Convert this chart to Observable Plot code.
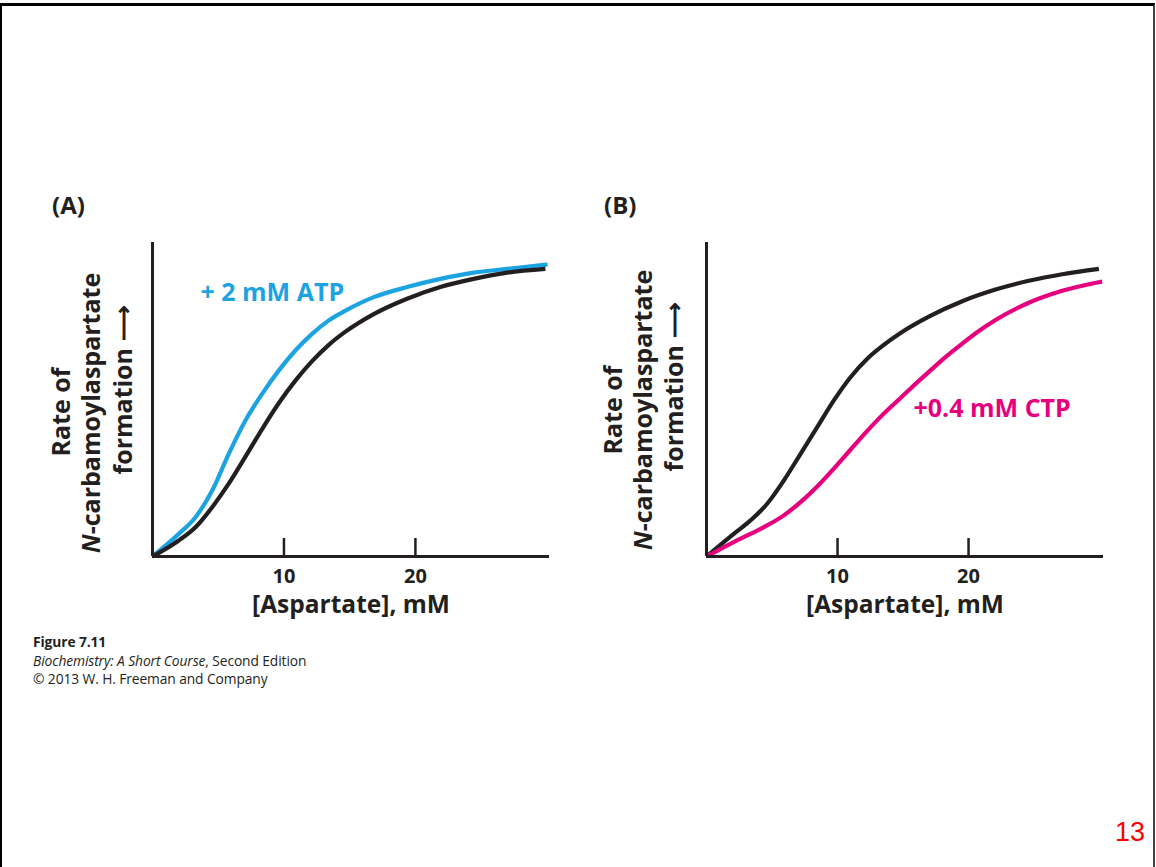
<!DOCTYPE html>
<html><head><meta charset="utf-8">
<script src="https://cdn.jsdelivr.net/npm/d3@7"></script>
<script src="https://cdn.jsdelivr.net/npm/@observablehq/plot@0.6"></script>
<style>
html,body{margin:0;padding:0;background:#fff;}
#page{position:relative;width:1156px;height:867px;overflow:hidden;font-family:"Open Sans",sans-serif;background:#fff;}
#frame{position:absolute;left:0;top:3px;width:1155px;height:900px;border-top:3px solid #000;border-left:2px solid #000;border-right:2px solid #444;box-sizing:border-box;}
.ylab{position:absolute;white-space:nowrap;font-weight:700;font-size:25px;line-height:1;transform:translate(-50%,-50%) rotate(-90deg);color:#231f20;}
.ptitle{position:absolute;font-weight:700;font-size:24px;line-height:1;transform:translateY(-50%);color:#231f20;}
.plot{position:absolute;top:200px;}
#caption{position:absolute;left:33px;top:633px;font-size:13.8px;line-height:18.5px;color:#231f20;letter-spacing:-0.1px;}
#pnum{position:absolute;right:11px;top:819px;font-family:"Liberation Sans",Arial,sans-serif;font-size:27px;color:#ff0000;line-height:1;}
</style></head>
<body>
<div id="page">
  <div id="frame"></div>
  <div class="ptitle" style="left:52px;top:205px;">(A)</div>
  <div class="ptitle" style="left:604px;top:205px;">(B)</div>
  <div id="plotA" class="plot" style="left:0px;"></div>
  <div id="plotB" class="plot" style="left:560px;"></div>
  <div class="ylab" style="left:60px;top:412px;">Rate of</div>
  <div class="ylab" style="left:90px;top:413px;"><i>N</i>-carbamoylaspartate</div>
  <div class="ylab" style="left:122px;top:390px;">formation ⟶</div>
  <div class="ylab" style="left:612px;top:410px;">Rate of</div>
  <div class="ylab" style="left:642px;top:410px;"><i>N</i>-carbamoylaspartate</div>
  <div class="ylab" style="left:673px;top:387px;">formation ⟶</div>
  <div id="caption"><b>Figure 7.11</b><br><i>Biochemistry: A Short Course</i>, Second Edition<br>© 2013 W. H. Freeman and Company</div>
  <div id="pnum">13</div>
</div>
<script>
// ---- data ----
const xTicks = [10, 20];
const xLabel = "[Aspartate], mM";

const aspA = [0, 2.0, 3.27, 4.54, 5.80, 7.07, 8.34, 9.60, 10.87, 12.14, 13.41, 14.68, 16.83, 19.37, 21.90, 24.43, 26.97, 29.89];
const rateA_control = [0, 5.1, 9.3, 15.7, 23.2, 31.8, 40.6, 48.8, 56.0, 62.2, 67.4, 71.6, 77.2, 82.1, 85.8, 88.4, 90.4, 91.6];
const aspA_ATP = [0, 2.0, 3.27, 4.54, 5.80, 7.07, 8.34, 9.60, 10.87, 12.14, 13.41, 14.68, 16.83, 19.37, 21.90, 24.43, 26.97, 30.05];
const rateA_ATP = [0, 7.2, 12.5, 21.0, 32.7, 43.3, 51.8, 59.2, 65.6, 70.9, 75.2, 78.3, 82.6, 85.8, 88.4, 90.4, 91.6, 93.0];

const aspB = [0, 2.08, 3.36, 4.63, 5.90, 7.18, 8.45, 9.72, 10.99, 12.27, 13.53, 14.81, 16.97, 19.52, 22.06, 24.60, 27.15, 29.95];
const rateB_control = [0, 7.2, 11.5, 16.8, 24.2, 32.7, 41.2, 49.7, 57.1, 63.0, 67.4, 71.2, 76.4, 81.3, 85.0, 87.8, 89.9, 91.6];
const aspB_CTP = [0, 2.08, 3.36, 4.63, 5.90, 7.18, 8.45, 9.72, 10.99, 12.27, 13.53, 14.81, 15.70, 16.97, 18.24, 19.52, 20.79, 22.06, 24.60, 27.15, 30.2];
const rateB_CTP = [0, 4.6, 7.2, 9.9, 13.1, 17.3, 22.3, 28.0, 34.0, 40.0, 45.5, 50.5, 54.0, 58.8, 63.5, 67.8, 71.8, 75.3, 80.8, 84.6, 87.6];

const labelATP = {text: "+ 2 mM ATP", x: 3.65, y: 83.8};
const labelCTP = {text: "+0.4 mM CTP", x: 15.8, y: 47.1};

const BLUE = "#1ba3e2", PINK = "#e6007e", INK = "#231f20";

const zip = (xs, ys) => xs.map((x, i) => ({x, y: ys[i]}));

function panel(el, {marginLeft, xMax, series, label}) {
  const frameH = 314;
  const p = Plot.plot({
    width: marginLeft + 397 + 10,
    height: 42 + frameH + 80,
    marginLeft, marginRight: 10, marginTop: 42, marginBottom: 80,
    style: {fontFamily: "Open Sans, sans-serif", fontWeight: "bold", color: INK, background: "transparent"},
    x: {domain: [0, xMax]},
    y: {domain: [0, 100]},
    marks: [
      Plot.axisX({ticks: xTicks, tickSize: 0, tickPadding: 12, fontSize: 20, fontWeight: "bold", label: null, fill: INK}),
      Plot.axisY({ticks: [], label: null}),
      Plot.ruleX(xTicks, {insetTop: frameH - 18, stroke: INK, strokeWidth: 2.5}),
      ...series.map(s => Plot.line(zip(s.x, s.y), {x: "x", y: "y", stroke: s.color, strokeWidth: 4.2, curve: "monotone-x", strokeLinecap: "butt"})),
      Plot.ruleX([0], {stroke: INK, strokeWidth: 3}),
      Plot.ruleY([0], {stroke: INK, strokeWidth: 3}),
      Plot.text([label], {x: "x", y: "y", text: "text", textAnchor: "start", fill: label.color, fontSize: 25, fontWeight: "bold"}),
      Plot.text([xLabel], {frameAnchor: "bottom", dy: 56, fontSize: 24.5, fontWeight: "bold", fill: INK})
    ]
  });
  document.getElementById(el).appendChild(p);
}

panel("plotA", {
  marginLeft: 152, xMax: 30.2,
  series: [
    {x: aspA_ATP, y: rateA_ATP, color: BLUE},
    {x: aspA, y: rateA_control, color: INK}
  ],
  label: {...labelATP, color: BLUE}
});
panel("plotB", {
  marginLeft: 146, xMax: 30.3,
  series: [
    {x: aspB, y: rateB_control, color: INK},
    {x: aspB_CTP, y: rateB_CTP, color: PINK}
  ],
  label: {...labelCTP, color: PINK}
});
</script>
</body></html>
